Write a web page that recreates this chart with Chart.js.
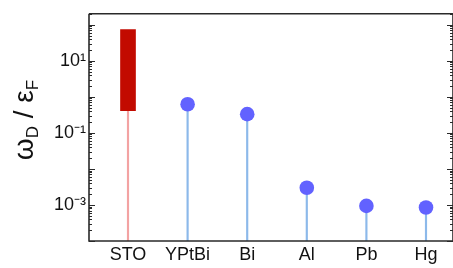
<!DOCTYPE html>
<html>
<head>
<meta charset="utf-8">
<script src="https://cdn.jsdelivr.net/npm/chart.js@4.4.1/dist/chart.umd.min.js"></script>
<style>
  html, body { margin: 0; padding: 0; background: #ffffff; }
  #wrap { width: 453px; height: 268px; }
</style>
</head>
<body>
<div id="wrap"><canvas id="c" width="453" height="268"></canvas></div>
<script>
// ---- data ----
const categories = ['STO', 'YPtBi', 'Bi', 'Al', 'Pb', 'Hg'];
const stoRange = [0.41, 73];                 // STO floating bar (low, high)
const lollipopValues = [null, 0.62, 0.33, 0.003, 0.00094, 0.00085];
const yTickValues = [10, 0.1, 0.001];
const yTickLabels = ['10¹', '10⁻¹', '10⁻³'];
const yMin = 1e-4, yMax = 200;
const xMin = 0.3456, xMax = 6.453;

const redStem = [{ x: 1, y: [yMin, stoRange[0]] }];
const redBar = [{ x: 1, y: stoRange }];
const blueStems = [];
const bluePoints = [];
lollipopValues.forEach((v, i) => {
  if (v === null) return;
  blueStems.push({ x: i + 1, y: [yMin, v] });
  bluePoints.push({ x: i + 1, y: v });
});

const axisColor = '#2a2a2a';

const framePlugin = {
  id: 'frame',
  afterDraw(chart) {
    const { ctx, chartArea: a, scales } = chart;
    const y = scales.y;
    ctx.save();
    ctx.strokeStyle = axisColor;
    ctx.lineWidth = 1;
    for (let e = -4; e <= 2; e++) {
      for (let m = 1; m <= 9; m++) {
        const v = m * Math.pow(10, e);
        if (v < yMin || v > yMax) continue;
        const py = Math.round(y.getPixelForValue(v)) + 0.5;
        const len = m === 1 ? 6 : 3;
        ctx.beginPath();
        ctx.moveTo(a.left, py); ctx.lineTo(a.left + len, py);
        ctx.moveTo(a.right, py); ctx.lineTo(a.right - len, py);
        ctx.stroke();
      }
    }
    ctx.lineWidth = 1.6;
    ctx.beginPath();
    ctx.moveTo(a.left, a.top); ctx.lineTo(a.right, a.top);
    ctx.moveTo(a.left, a.top); ctx.lineTo(a.left, a.bottom);
    ctx.lineTo(a.right, a.bottom);
    ctx.moveTo(a.right, a.top); ctx.lineTo(a.right, a.bottom);
    ctx.stroke();
    ctx.restore();

    // y-axis title: ω_D / ε_F (rotated)
    const big = '28px "Liberation Sans", Arial, sans-serif';
    const small = '17px "Liberation Sans", Arial, sans-serif';
    const parts = [
      { t: 'ω', f: big, dy: 0 },
      { t: 'D', f: small, dy: 5 },
      { t: ' / ', f: big, dy: 0 },
      { t: 'ε', f: big, dy: 0 },
      { t: 'F', f: small, dy: 5 }
    ];
    ctx.save();
    let total = 0;
    parts.forEach(p => { ctx.font = p.f; p.w = ctx.measureText(p.t).width; total += p.w; });
    ctx.translate(33, 120);
    ctx.rotate(-Math.PI / 2);
    ctx.fillStyle = '#111';
    ctx.textBaseline = 'alphabetic';
    ctx.textAlign = 'left';
    let x = -total / 2;
    parts.forEach(p => { ctx.font = p.f; ctx.fillText(p.t, x, p.dy); x += p.w; });
    ctx.restore();
  }
};

new Chart(document.getElementById('c'), {
  type: 'bar',
  data: {
    datasets: [
      { type: 'bar', data: redStem, backgroundColor: '#f3a3a3', barThickness: 1.5, grouped: false, order: 3 },
      { type: 'bar', data: redBar, backgroundColor: '#c20a00', barThickness: 15, grouped: false, order: 2 },
      { type: 'bar', data: blueStems, backgroundColor: '#8cb9ea', barThickness: 1.5, grouped: false, order: 3 },
      { type: 'scatter', data: bluePoints, backgroundColor: '#6262ff', borderWidth: 0, pointRadius: 7.3, showLine: false, order: 1 }
    ]
  },
  options: {
    responsive: false,
    animation: false,
    events: [],
    layout: { autoPadding: false, padding: { left: 0, right: 0, top: 9, bottom: 0 } },
    plugins: { legend: { display: false }, tooltip: { enabled: false } },
    scales: {
      x: {
        type: 'linear',
        offset: false,
        min: xMin, max: xMax,
        grid: { display: false, drawTicks: false },
        border: { display: false },
        afterFit(s) { s.height = 27; s.paddingLeft = 0; s.paddingRight = 0; },
        ticks: {
          stepSize: 1, includeBounds: false, autoSkip: false, maxRotation: 0,
          padding: 3,
          color: '#111',
          font: { family: '"Liberation Sans", Arial, sans-serif', size: 18 },
          callback: (v) => Number.isInteger(v) && v >= 1 && v <= categories.length ? categories[v - 1] : ''
        }
      },
      y: {
        type: 'logarithmic',
        min: yMin, max: yMax,
        grid: { display: false, drawTicks: false },
        border: { display: false },
        afterFit(s) { s.width = 89; },
        ticks: {
          autoSkip: false,
          padding: 3,
          color: '#111',
          font: { family: '"Liberation Sans", Arial, sans-serif', size: 18 },
          callback: (v) => {
            const i = yTickValues.findIndex(t => Math.abs(Math.log10(v) - Math.log10(t)) < 1e-6);
            return i >= 0 ? yTickLabels[i] : '';
          }
        }
      }
    }
  },
  plugins: [framePlugin]
});
</script>
</body>
</html>
